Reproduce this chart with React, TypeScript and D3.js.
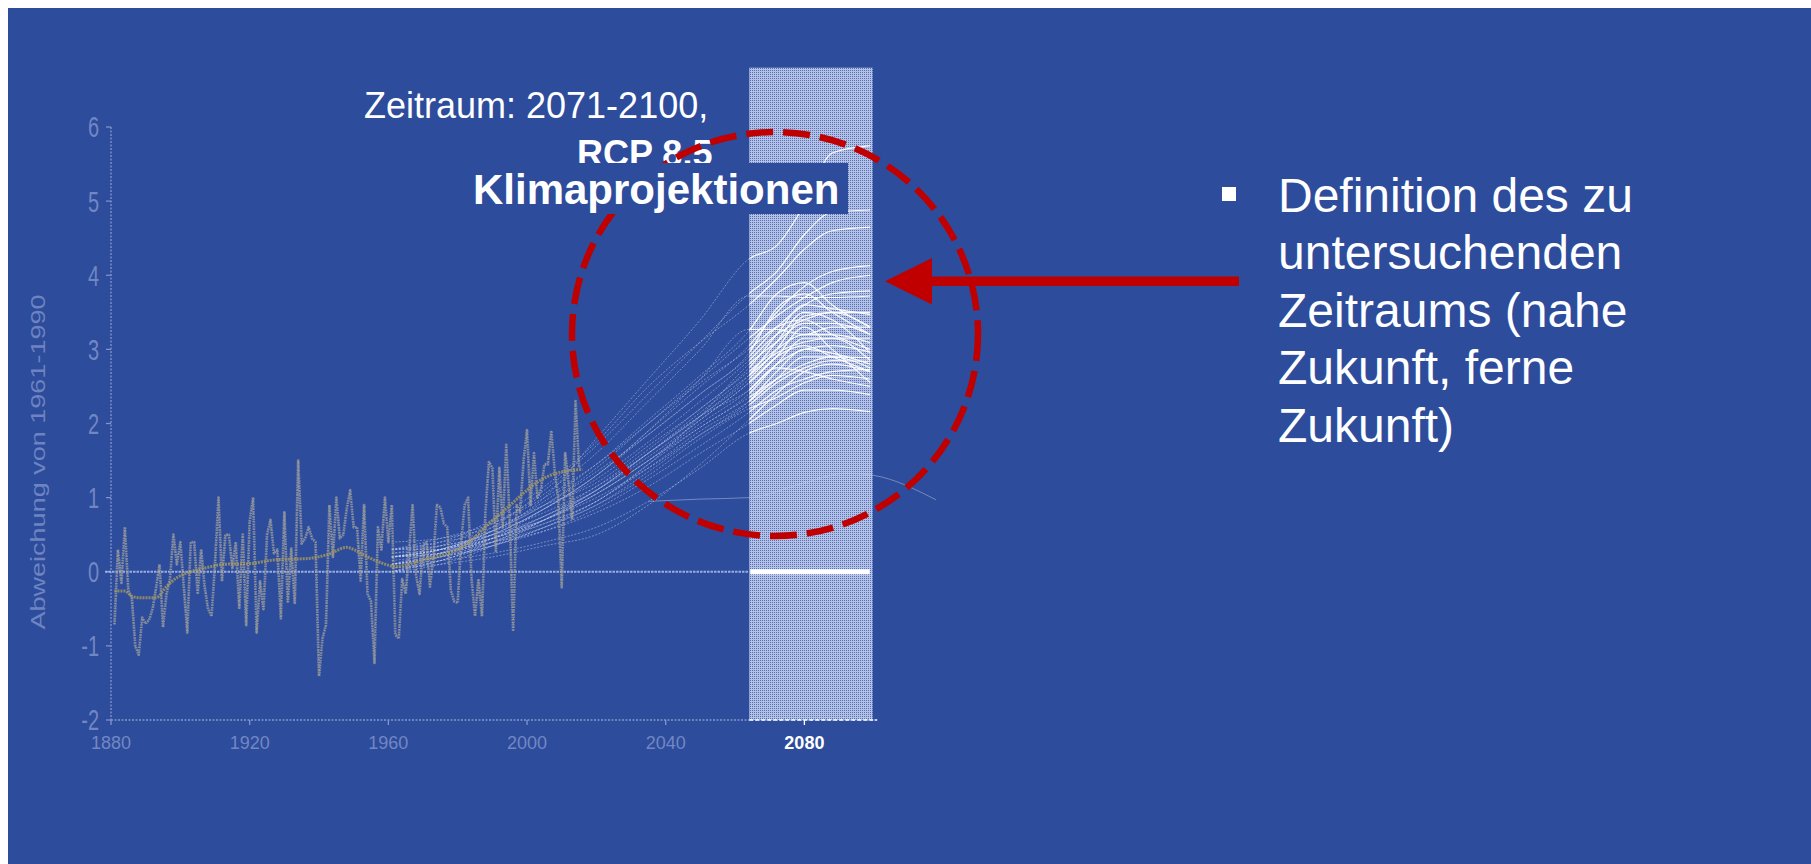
import React from 'react';
import * as d3 from 'd3';

// ---------- data ----------
const obsStartYear = 1881;
const obsValues = [
  -0.71, 0.30, -0.15, 0.60, -0.25, -0.35, -1.00, -1.12, -0.62, -0.70,
  -0.65, -0.50, -0.22, 0.10, -0.75, -0.30, -0.10, 0.50, 0.10, 0.40,
  -0.20, -0.82, 0.40, 0.40, -0.30, 0.30, -0.20, -0.50, -0.60, 0.10,
  1.00, -0.13, 0.50, 0.50, 0.05, 0.40, -0.50, 0.50, -0.72, 0.68,
  1.00, -0.82, -0.13, -0.52, 0.50, 0.70, 0.25, 0.30, -0.63, 0.80,
  -0.42, 0.31, -0.42, 1.50, 0.38, 0.45, 0.60, 0.45, 0.40, -1.41,
  -0.90, -0.72, 0.90, 0.20, 1.00, 0.45, 0.50, 0.85, 1.10, 0.60,
  0.60, -0.12, 0.90, -0.30, -0.40, -1.23, 0.60, 0.30, 1.00, 0.40,
  0.90, -0.85, -0.90, -0.10, -0.30, 0.30, 0.90, -0.05, -0.30, 0.35,
  0.40, -0.20, 0.20, 0.90, 0.87, 0.65, 0.60, -0.25, -0.40, -0.42,
  0.40, 0.90, 1.00, -0.10, -0.60, -0.10, -0.60, 0.80, 1.48, 1.40,
  0.28, 1.40, 0.60, 1.71, 0.70, -0.80, 0.90, 0.80, 1.50, 1.91,
  0.90, 1.60, 1.00, 1.10, 1.45, 1.45, 1.90, 1.35, 1.00, -0.21,
  1.60, 1.20, 0.70, 2.30, 1.40,
];

const smoothYears = [1881, 1884, 1886, 1888, 1893, 1896, 1899, 1903, 1909, 1912, 1920, 1927, 1937, 1943, 1948, 1950, 1954, 1958, 1962, 1966, 1970, 1975, 1980, 1984.5, 1989, 1994, 1999, 2004, 2008.5, 2013, 2016];
const smoothValues = [-0.26, -0.26, -0.33, -0.35, -0.35, -0.2, -0.08, 0.0, 0.07, 0.1, 0.11, 0.16, 0.18, 0.24, 0.33, 0.3, 0.2, 0.12, 0.07, 0.1, 0.16, 0.22, 0.3, 0.45, 0.65, 0.85, 1.06, 1.24, 1.33, 1.37, 1.38];

const projYears = [1961, 1975, 1990, 2005, 2020, 2035, 2050, 2064, 2072, 2080, 2088, 2099];
const projRuns = [
  [0.20, 0.30, 0.55, 1.00, 1.80, 2.60, 3.40, 4.22, 4.40, 4.95, 5.65, 5.75],
  [0.10, 0.25, 0.60, 1.10, 1.70, 2.40, 3.10, 3.75, 4.05, 4.55, 4.85, 4.88],
  [0.30, 0.40, 0.70, 1.15, 1.75, 2.50, 3.10, 3.60, 3.95, 4.35, 4.60, 4.65],
  [0.00, 0.20, 0.45, 0.85, 1.30, 1.90, 2.50, 3.05, 3.50, 3.85, 4.05, 4.13],
  [0.20, 0.30, 0.55, 0.90, 1.40, 2.00, 2.60, 3.15, 3.45, 3.70, 3.90, 4.00],
  [0.10, 0.25, 0.50, 0.85, 1.30, 1.85, 2.40, 2.90, 3.30, 3.60, 3.75, 3.79],
  [0.40, 0.45, 0.60, 0.90, 1.20, 1.70, 2.20, 2.75, 3.20, 3.60, 3.55, 3.47],
  [0.00, 0.10, 0.35, 0.70, 1.10, 1.60, 2.10, 2.60, 3.00, 3.45, 3.50, 3.30],
  [0.20, 0.30, 0.45, 0.75, 1.15, 1.65, 2.20, 2.70, 3.00, 3.20, 3.20, 3.09],
  [0.30, 0.35, 0.50, 0.70, 1.05, 1.50, 2.00, 2.45, 2.80, 3.00, 3.05, 2.96],
  [0.10, 0.20, 0.40, 0.65, 0.95, 1.45, 1.95, 2.35, 2.60, 2.80, 2.90, 2.89],
  [0.20, 0.25, 0.45, 0.70, 1.00, 1.40, 1.85, 2.25, 2.55, 2.75, 2.85, 2.84],
  [0.00, 0.15, 0.35, 0.55, 0.85, 1.25, 1.70, 2.15, 2.45, 2.60, 2.70, 2.73],
  [0.30, 0.30, 0.40, 0.55, 0.80, 1.15, 1.60, 2.00, 2.25, 2.45, 2.45, 2.39],
  [0.10, 0.15, 0.25, 0.40, 0.60, 0.95, 1.40, 1.87, 2.00, 2.15, 2.20, 2.16],
  [0.20, 0.30, 0.55, 0.95, 1.45, 2.05, 2.65, 3.25, 3.75, 3.90, 3.60, 3.30],
  [0.10, 0.30, 0.55, 0.90, 1.35, 1.85, 2.40, 2.95, 3.55, 3.75, 3.50, 3.20],
  [0.30, 0.40, 0.55, 0.80, 1.15, 1.60, 2.10, 2.65, 3.10, 3.50, 3.40, 2.95],
  [0.20, 0.25, 0.45, 0.70, 1.05, 1.50, 1.95, 2.40, 2.80, 3.15, 3.15, 2.85],
  [0.00, 0.15, 0.40, 0.70, 1.05, 1.50, 2.05, 2.55, 2.90, 3.30, 3.00, 2.55],
  [0.25, 0.35, 0.50, 0.75, 1.10, 1.55, 2.05, 2.55, 2.90, 3.05, 2.90, 2.70],
  [0.10, 0.20, 0.35, 0.60, 0.95, 1.40, 1.90, 2.30, 2.60, 2.90, 2.90, 2.75],
  [0.15, 0.25, 0.45, 0.75, 1.10, 1.60, 2.10, 2.45, 2.75, 2.70, 2.60, 2.50],
  [0.30, 0.45, 0.65, 1.00, 1.45, 2.00, 2.55, 3.00, 3.30, 3.40, 3.20, 3.00],
  [0.05, 0.15, 0.40, 0.70, 1.10, 1.60, 2.15, 2.65, 2.95, 3.10, 3.15, 3.15],
  [0.20, 0.30, 0.50, 0.85, 1.25, 1.75, 2.30, 2.85, 3.20, 3.40, 3.50, 3.50],
  [0.20, 0.35, 0.65, 1.05, 1.60, 2.30, 3.00, 3.72, 3.72, 3.70, 3.70, 3.72],
  [0.20, 0.30, 0.50, 0.85, 1.30, 1.90, 2.60, 3.27, 3.27, 3.20, 3.30, 3.30],
  [0.10, 0.20, 0.35, 0.60, 0.90, 1.30, 1.80, 2.20, 2.35, 2.55, 2.65, 2.60],
  [0.20, 0.25, 0.40, 0.60, 0.90, 1.35, 1.85, 2.30, 2.70, 3.00, 2.95, 2.80],
  [0.05, 0.10, 0.20, 0.35, 0.50, 0.90, 1.45, 2.05, 2.40, 2.70, 2.80, 2.70],
  [0.25, 0.30, 0.45, 0.65, 0.95, 1.45, 2.10, 2.80, 3.10, 3.35, 3.35, 3.20],
];

const strayYears = [2035, 2050, 2064, 2080, 2092, 2100, 2118];
const strayValues = [0.95, 0.98, 1.0, 1.2, 1.33, 1.3, 0.97];

const yTicks = [-2, -1, 0, 1, 2, 3, 4, 5, 6];
const xTicks = [1880, 1920, 1960, 2000, 2040, 2080];
const highlightTick = 2080;
const bandYears = [2064.1, 2099.7];
const bandTopValue = 6.8;

const bulletLines = [
  'Definition des zu',
  'untersuchenden',
  'Zeitraums (nahe',
  'Zukunft, ferne',
  'Zukunft)',
];

// ---------- styles ----------
const W = 1811;
const H = 864;
const BG = '#2D4C9B';
const RED = '#C00000';
const FAINT = '#8396cf';
const FONT = '"Liberation Sans", Arial, Helvetica, sans-serif';

export default function App() {
  const x = d3.scaleLinear().domain([1880, 2101]).range([111, 877.2]);
  const y = d3.scaleLinear().domain([-2, 6]).range([720, 127]);

  const obsLine = d3
    .line<number>()
    .x((_, i) => x(obsStartYear + i))
    .y((d) => y(d));

  const smoothLine = d3
    .line<number>()
    .x((_, i) => x(smoothYears[i]))
    .y((d) => y(d))
    .curve(d3.curveMonotoneX);

  const projLine = d3
    .line<number>()
    .x((_, i) => x(projYears[i]))
    .y((d) => y(d))
    .curve(d3.curveMonotoneX);

  const strayLine = d3
    .line<number>()
    .x((_, i) => x(strayYears[i]))
    .y((d) => y(d))
    .curve(d3.curveMonotoneX);

  const bx0 = x(bandYears[0]);
  const bx1 = x(bandYears[1]);
  const axisY = y(-2);
  const zeroY = y(0);

  const bulletX = 1278;
  const bulletY0 = 211.7;
  const bulletDy = 57.5;

  return (
    <svg
      width={W}
      height={H}
      viewBox={`0 0 ${W} ${H}`}
      style={{ position: 'fixed', left: 0, top: 0, display: 'block' }}
      fontFamily={FONT}
    >
      <defs>
        <pattern id="bandDots" width="2" height="2" patternUnits="userSpaceOnUse">
          <rect width="2" height="2" fill="#b4c0e4" />
          <rect width="1" height="1" fill="#5672b6" />
        </pattern>
        <clipPath id="clipOut">
          <rect x={0} y={0} width={bx0} height={H} />
        </clipPath>
        <clipPath id="clipIn">
          <rect x={bx0} y={0} width={bx1 - bx0 - 2} height={H} />
        </clipPath>
      </defs>

      <rect x={0} y={0} width={W} height={H} fill="#ffffff" />
      <rect x={8} y={8} width={W - 8} height={H - 8} fill={BG} />

      {/* highlighted period band */}
      <rect x={bx0} y={y(bandTopValue)} width={bx1 - bx0} height={axisY - y(bandTopValue)} fill="url(#bandDots)" />

      {/* axes */}
      <line x1={x(1880)} x2={x(1880)} y1={y(6)} y2={axisY} stroke={FAINT} strokeWidth={1.3} strokeDasharray="2 1.5" />
      <line x1={x(1880)} x2={x(2101)} y1={axisY} y2={axisY} stroke={FAINT} strokeWidth={1.3} strokeDasharray="2 1.5" />
      <line x1={bx0} x2={x(2101)} y1={axisY} y2={axisY} stroke="#ffffff" strokeWidth={1.5} strokeDasharray="4 2" />
      {yTicks.map((t) => (
        <g key={'yt' + t}>
          <line x1={x(1880) - 5} x2={x(1880)} y1={y(t)} y2={y(t)} stroke={FAINT} strokeWidth={1.2} />
          <text
            transform={`translate(99, ${y(t)}) scale(1, 1.45)`}
            dy="0.36em"
            textAnchor="end"
            fontSize={20}
            fill={FAINT}
            opacity={0.8}
          >
            {t}
          </text>
        </g>
      ))}
      {xTicks.map((t) => (
        <g key={'xt' + t}>
          <line
            x1={x(t)}
            x2={x(t)}
            y1={axisY}
            y2={axisY + 5}
            stroke={t === highlightTick ? '#ffffff' : FAINT}
            strokeWidth={1.3}
          />
          <text
            x={x(t)}
            y={749}
            textAnchor="middle"
            fontSize={18}
            fontWeight={t === highlightTick ? 'bold' : 'normal'}
            fill={t === highlightTick ? '#ffffff' : FAINT}
            opacity={t === highlightTick ? 1 : 0.8}
          >
            {t}
          </text>
        </g>
      ))}
      <text
        transform="translate(38, 462) rotate(-90)"
        textAnchor="middle"
        dy="0.35em"
        fontSize={21}
        textLength={335}
        lengthAdjust="spacingAndGlyphs"
        fill={FAINT}
        opacity={0.75}
      >
        Abweichung von 1961-1990
      </text>

      {/* zero reference line */}
      <line x1={x(1880) - 6} x2={bx0} y1={zeroY} y2={zeroY} stroke="#aebfee" strokeWidth={2.2} strokeDasharray="2.5 1" opacity={0.85} />
      <line x1={bx0 + 1} x2={bx1 - 3} y1={zeroY} y2={zeroY} stroke="#ffffff" strokeWidth={5} />

      {/* projections outside the period */}
      <g clipPath="url(#clipOut)">
        {projRuns.map((r, i) => (
          <path key={'po' + i} d={projLine(r) || ''} fill="none" stroke="#c2cef2" strokeWidth={1} strokeDasharray="2 1.5" opacity={0.5} />
        ))}
      </g>
      {/* projections within the period */}
      <g clipPath="url(#clipIn)">
        {projRuns.map((r, i) => (
          <path key={'pi' + i} d={projLine(r) || ''} fill="none" stroke="#ffffff" strokeWidth={1.2} opacity={0.95} />
        ))}
      </g>
      <path d={strayLine(strayValues) || ''} fill="none" stroke="#c5d0f0" strokeWidth={1} opacity={0.45} />

      {/* observations */}
      <path d={obsLine(obsValues) || ''} fill="none" stroke="#9a9fae" strokeWidth={2.8} strokeLinejoin="round" strokeDasharray="1.6 0.9" opacity={0.7} />
      <path d={obsLine(obsValues) || ''} fill="none" stroke="#b7a56a" strokeWidth={1} strokeDasharray="1.5 2.5" opacity={0.7} />
      <path d={smoothLine(smoothValues) || ''} fill="none" stroke="#a89860" strokeWidth={3} strokeDasharray="2 1" opacity={0.8} />

      {/* titles */}
      <text x={364} y={118} fontSize={36} fill="#ffffff">
        Zeitraum: 2071-2100,
      </text>
      <text x={577} y={166} fontSize={36} fontWeight="bold" fill="#ffffff">
        RCP 8.5
      </text>

      {/* red dashed circle */}
      <ellipse cx={775} cy={334} rx={203} ry={202} fill="none" stroke={RED} strokeWidth={6.5} strokeDasharray="27 10" />

      {/* label box */}
      <rect x={466} y={163} width={848 - 466} height={51} fill={BG} />
      <text x={473} y={204} fontSize={42} fontWeight="bold" fill="#ffffff">
        Klimaprojektionen
      </text>

      {/* arrow */}
      <line x1={925} x2={1239} y1={281.3} y2={281.3} stroke={RED} strokeWidth={9.5} />
      <polygon points="885,281.3 932,258 932,304.6" fill={RED} />

      {/* bullet text */}
      <rect x={1222} y={187} width={14} height={14} fill="#ffffff" />
      {bulletLines.map((t, i) => (
        <text key={'b' + i} x={bulletX} y={bulletY0 + i * bulletDy} fontSize={48} fill="#ffffff">
          {t}
        </text>
      ))}
    </svg>
  );
}
